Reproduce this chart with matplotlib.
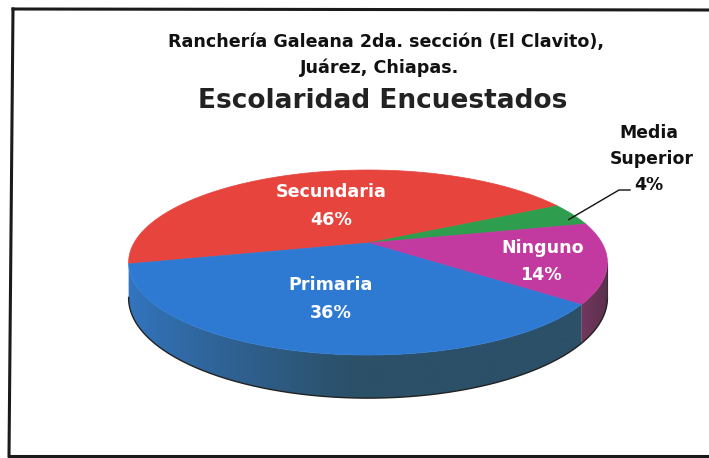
import numpy as np
import matplotlib
matplotlib.use("Agg")
import matplotlib.pyplot as plt
from matplotlib.patches import Polygon
from matplotlib.colors import to_rgb

categories = ["Secundaria", "Media\nSuperior", "Ninguno", "Primaria"]
values = [46, 4, 14, 36]
top_colors = ["#E8443E", "#2E9E4E", "#C23AA0", "#2E7AD3"]
side_colors_left = ["#9a2c28", "#1f6a35", "#74395f", "#3376c2"]
side_colors_right = ["#9a2c28", "#1f6a35", "#5a2f4c", "#2b5068"]
title_lines = ["Ranchería Galeana 2da. sección (El Clavito),", "Juárez, Chiapas."]
title_main = "Escolaridad Encuestados"

W, H = 709, 458
fig = plt.figure(figsize=(W / 100, H / 100), dpi=100)
ax = fig.add_axes([0, 0, 1, 1])
ax.set_xlim(0, W)
ax.set_ylim(H, 0)
ax.set_autoscale_on(False)
ax.axis("off")

# frame
ax.plot([13, 9], [9, 456], color="#1a1a1a", lw=2.2)
ax.plot([13, 709], [9, 10], color="#1a1a1a", lw=2.2)
ax.plot([9, 709], [456, 456], color="#1a1a1a", lw=2.2)

# projection of the 3D pie
x0, y0, a, b, k, h = 368, 243, 234, 88.4, 0.211, 34


def proj(t, z=0.0):
    d = 1 + k * np.sin(t)
    X = x0 + a * np.cos(t) / d
    Y = y0 - (b * np.sin(t) + h * z) / d
    return X, Y


start = np.deg2rad(193)
fr = np.array(values) / sum(values)
ends = start - np.cumsum(fr) * 2 * np.pi
starts = np.concatenate([[start], ends[:-1]])

vis_lo, vis_hi = np.deg2rad(-168.2), np.deg2rad(-12.2)

# side walls, gradient shaded
for i in range(len(values)):
    t1, t0 = starts[i], ends[i]
    while t0 > 0.5:
        t0 -= 2 * np.pi
        t1 -= 2 * np.pi
    while t1 < -np.pi - 0.5:
        t0 += 2 * np.pi
        t1 += 2 * np.pi
    lo, hi = max(t0, vis_lo), min(t1, vis_hi)
    if lo >= hi:
        continue
    ts = np.linspace(lo, hi, 200)
    X1, Y1 = proj(ts)
    X2, Y2 = proj(ts[::-1], -1)
    pts = np.column_stack([np.concatenate([X1, X2]), np.concatenate([Y1, Y2])])
    poly = Polygon(pts, closed=True, facecolor="none", edgecolor="none")
    ax.add_patch(poly)
    xs = np.linspace(pts[:, 0].min() - 2, pts[:, 0].max() + 2, 400)
    cl = np.array(to_rgb(side_colors_left[i]))
    cr = np.array(to_rgb(side_colors_right[i]))
    u = (xs - xs.min()) / (xs.max() - xs.min())
    if i == 3:
        u = np.clip(u / 0.5, 0, 1) ** 0.8
    grad = cl[None, :] * (1 - u[:, None]) + cr[None, :] * u[:, None]
    img = np.repeat(grad[None, :, :], 2, axis=0)
    im = ax.imshow(img, extent=[xs.min(), xs.max(), pts[:, 1].max() + 2,
                                pts[:, 1].min() - 2],
                   aspect="auto", interpolation="bilinear", zorder=1)
    im.set_clip_path(poly)

# bottom rim outline
tt = np.linspace(vis_lo, vis_hi, 300)
bx, by = proj(tt, -1)
ax.plot(bx, by, color="#222222", lw=1.0, zorder=2)
rx1, ry1 = proj(vis_hi)
rx2, ry2 = proj(vis_hi, -1)
ax.plot([rx1, rx2], [ry1, ry2], color="#333333", lw=0.8, zorder=2)

# top faces
for i in range(len(values)):
    ts = np.linspace(starts[i], ends[i], 200)
    X, Y = proj(ts)
    pts = [[x0, y0]] + list(zip(X, Y))
    ax.add_patch(Polygon(pts, closed=True, facecolor=top_colors[i],
                         edgecolor=top_colors[i], lw=0.5, zorder=3))

# labels
fam = ["DejaVu Sans"]
lab_kw = dict(color="white", fontweight="bold", ha="center", va="center",
              family=fam, fontsize=12.6, zorder=5)
ax.text(331, 192, categories[0], **lab_kw)
ax.text(331, 220, f"{values[0]}%", **lab_kw)
ax.text(331, 285, categories[3], **lab_kw)
ax.text(331, 313, f"{values[3]}%", **lab_kw)
ax.text(543, 248, categories[2], **lab_kw)
ax.text(541, 275, f"{values[2]}%", **lab_kw)

blk_kw = dict(color="#111111", fontweight="bold", ha="center", va="center",
              family=fam, fontsize=12.4, zorder=5)
media_lines = categories[1].split("\n")
ax.text(649, 133, media_lines[0], **blk_kw)
ax.text(652, 159, media_lines[1], **blk_kw)
ax.text(649, 185, f"{values[1]}%", **blk_kw)
tm = (starts[1] + ends[1]) / 2
mx, my = proj(tm)
ax.plot([mx - 4, 619, 630], [my + 5, 190, 190], color="#111111", lw=1.0, zorder=5)

# titles
ax.text(386, 42, title_lines[0], ha="center", va="center", fontweight="bold",
        family=fam, fontsize=12.6, color="#111111")
ax.text(380, 68, title_lines[1], ha="center", va="center", fontweight="bold",
        family=fam, fontsize=12.6, color="#111111")
ax.text(383, 101, title_main, ha="center", va="center", fontweight="bold",
        family=fam, fontsize=19, color="#222222")

fig.savefig("out.png", dpi=100)
